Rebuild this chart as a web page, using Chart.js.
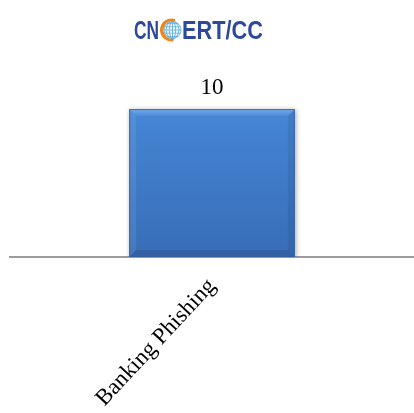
<!DOCTYPE html>
<html>
<head>
<meta charset="utf-8">
<script src="https://cdn.jsdelivr.net/npm/chart.js@4.4.1/dist/chart.umd.min.js"></script>
<style>
html, body { margin: 0; padding: 0; background: #fff; }
#wrap { width: 414px; height: 413px; position: relative; }
</style>
</head>
<body>
<div id="wrap"><canvas id="myChart"></canvas></div>
<script>
/* Data */
const categories = ['Banking Phishing'];
const counts = [10];
const yMax = 14;

const ctx = document.getElementById('myChart');

/* logo drawn on top of the canvas */
const logoPlugin = {
    id: 'logo',
    afterDraw(chart) {
        const c = chart.ctx;
        c.save();
        c.fillStyle = '#2c4a99';
        c.textBaseline = 'alphabetic';
        c.textAlign = 'left';
        c.font = 'bold 25px "Liberation Sans Narrow", "Liberation Sans", Arial, sans-serif';
        // "CN"
        let w = c.measureText('CN').width;
        c.save();
        c.translate(134, 39);
        c.scale(25 / w, 1);
        c.fillText('CN', 0, 0);
        c.restore();
        // "ERT/CC"
        w = c.measureText('ERT/CC').width;
        c.save();
        c.translate(182, 39);
        c.scale(81 / w, 1);
        c.fillText('ERT/CC', 0, 0);
        c.restore();
        // globe in place of the second C
        const gx = 172.5, gy = 30, r = 8.5;
        c.fillStyle = '#f1f8fd';
        c.beginPath(); c.arc(gx, gy, r, 0, Math.PI * 2); c.fill();
        c.strokeStyle = '#4aa3dc';
        c.lineWidth = 0.7;
        c.beginPath(); c.arc(gx, gy, r, 0, Math.PI * 2); c.stroke();
        for (let k = 1; k <= 2; k++) {
            c.beginPath(); c.ellipse(gx, gy, k * 3.2, r, 0, 0, Math.PI * 2); c.stroke();
        }
        c.beginPath(); c.moveTo(gx, gy - r); c.lineTo(gx, gy + r); c.stroke();
        for (let k = -2; k <= 2; k++) {
            const yy = gy + k * 3.2;
            const hw = Math.sqrt(Math.max(0, r * r - (k * 3.2) * (k * 3.2)));
            c.beginPath(); c.moveTo(gx - hw, yy); c.lineTo(gx + hw, yy); c.stroke();
        }
        // orange crescent on the left
        c.fillStyle = '#f0871c';
        c.beginPath();
        c.arc(gx - 1, gy, r + 3, Math.PI * 0.45, Math.PI * 1.6);
        c.arc(gx, gy, r + 0.5, Math.PI * 1.6, Math.PI * 0.45, true);
        c.closePath();
        c.fill();
        c.restore();
    }
};

/* bevel + shadow look for the bars, and the value on top */
const bevelPlugin = {
    id: 'bevel',
    beforeDatasetDraw(chart) {
        const c = chart.ctx;
        c.save();
        c.shadowColor = 'rgba(0,0,0,0.35)';
        c.shadowBlur = 5;
        c.shadowOffsetX = 1;
        c.shadowOffsetY = 1;
    },
    afterDatasetDraw(chart, args) {
        const c = chart.ctx;
        c.restore();
        const meta = chart.getDatasetMeta(args.index);
        meta.data.forEach((bar, i) => {
            const l = bar.x - bar.width / 2, r = bar.x + bar.width / 2;
            const t = bar.y, b = bar.base, d = 7;
            const poly = (pts, fill) => {
                c.beginPath();
                c.moveTo(pts[0][0], pts[0][1]);
                pts.slice(1).forEach(p => c.lineTo(p[0], p[1]));
                c.closePath();
                c.fillStyle = fill;
                c.fill();
            };
            const g = c.createLinearGradient(0, t, 0, t + d);
            g.addColorStop(0, '#78acea');
            g.addColorStop(1, '#4b89d8');
            poly([[l, t], [r, t], [r - d, t + d], [l + d, t + d]], g);
            poly([[l, t], [l + d, t + d], [l + d, b - d], [l, b]], 'rgba(255,255,255,0.08)');
            poly([[r, t], [r, b], [r - d, b - d], [r - d, t + d]], 'rgba(0,0,0,0.07)');
            poly([[l, b], [l + d, b - d], [r - d, b - d], [r, b]], 'rgba(0,0,0,0.10)');
            c.strokeStyle = 'rgba(50,95,160,0.8)';
            c.lineWidth = 1;
            c.strokeRect(l + 0.5, t + 0.5, r - l - 1, b - t - 1);

            c.fillStyle = '#000';
            c.font = '23px "Liberation Serif", "Times New Roman", serif';
            c.textAlign = 'center';
            c.textBaseline = 'alphabetic';
            c.fillText(String(counts[i]), bar.x, t - 15);
        });
    }
};

new Chart(ctx, {
    type: 'bar',
    data: {
        labels: categories,
        datasets: [{
            data: counts,
            backgroundColor: function (context) {
                const chart = context.chart;
                const area = chart.chartArea;
                if (!area) return '#3f7bc8';
                const y = chart.scales.y;
                const g = chart.ctx.createLinearGradient(0, y.getPixelForValue(counts[0]), 0, y.getPixelForValue(0));
                g.addColorStop(0, '#4586d5');
                g.addColorStop(1, '#386db7');
                return g;
            },
            borderWidth: 0,
            categoryPercentage: 1,
            barPercentage: 0.41
        }]
    },
    options: {
        responsive: true,
        maintainAspectRatio: false,
        animation: false,
        layout: { padding: { top: 50, left: 10, right: 0, bottom: 0 } },
        plugins: {
            legend: { display: false },
            tooltip: { enabled: false }
        },
        scales: {
            x: {
                grid: { display: false },
                border: { display: true, color: '#9c9c9c', width: 2 },
                ticks: {
                    color: '#000',
                    autoSkip: false,
                    minRotation: 47,
                    maxRotation: 47,
                    padding: 8,
                    font: { family: '"Liberation Serif", "Times New Roman", serif', size: 23 }
                },
                afterFit: function (scale) { scale.height = 156; }
            },
            y: {
                display: false,
                min: 0,
                max: yMax
            }
        }
    },
    plugins: [logoPlugin, bevelPlugin]
});
</script>
</body>
</html>
